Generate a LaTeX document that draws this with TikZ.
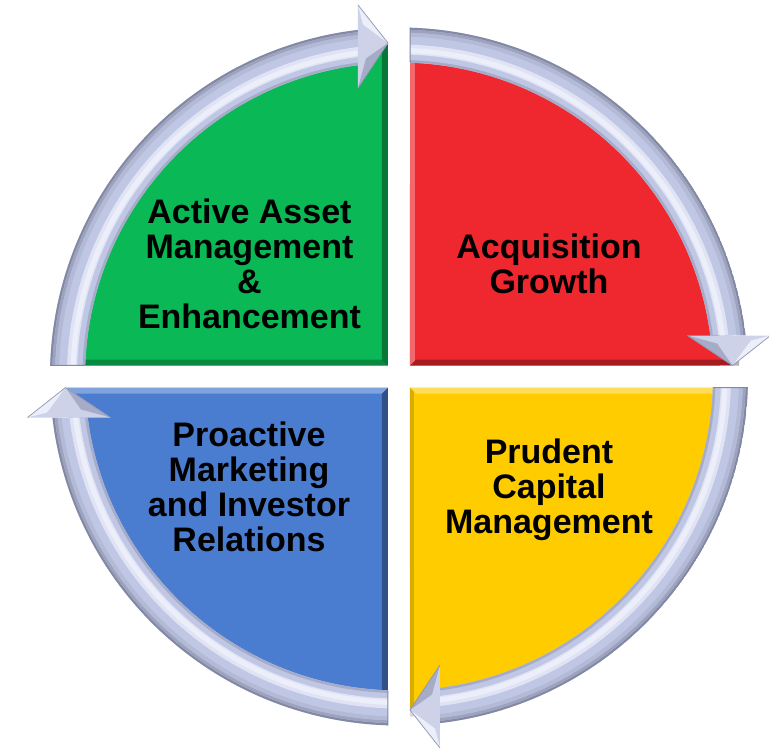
\documentclass[tikz,border=0pt]{standalone}
\usepackage{fontspec}
\setmainfont{Liberation Sans}
\definecolor{qgreen}{RGB}{10,184,86}
\definecolor{qred}{RGB}{238,40,46}
\definecolor{qyellow}{RGB}{255,204,0}
\definecolor{qblue}{RGB}{74,124,208}
\definecolor{bandbase}{RGB}{192,199,228}
\definecolor{bandlight}{RGB}{236,239,250}
\definecolor{banddark}{RGB}{105,110,135}
\newcommand{\quadshape}{(-11,11) -- (91.9:332) arc[start angle=91.9,end angle=178.1,radius=332] -- cycle}
\newcommand{\bandshape}{(178.19:349) arc[start angle=178.19,end angle=96.75,radius=349] -- (97.50:314) arc[start angle=97.50,end angle=177.99,radius=314] -- cycle}
\newcommand{\ringarrow}{%
  \begin{scope}
    \clip \bandshape;
    \fill[bandbase] (0,0) circle (360);
    \draw[banddark!70!bandbase, line width=2.5pt] (0,0) circle (348);
    \draw[banddark!40!bandbase, line width=3pt] (0,0) circle (345.3);
    \draw[banddark!15!bandbase, line width=4pt] (0,0) circle (342);
    \draw[bandlight!70!bandbase, line width=10pt] (0,0) circle (327);
    \draw[bandlight, line width=5pt] (0,0) circle (326);
    \draw[banddark!30!bandbase, line width=2.5pt] (0,0) circle (315.3);
  \end{scope}
  \draw[banddark!70!bandbase, line width=1pt] (177.99:314) -- (178.19:349);
  \fill[bandbase!80!white] (-41,371.5) -- (-11,333.5) -- (-41,288.5) -- cycle;
  \fill[banddark!30!bandbase] (-33,318) -- (-11,333.5) -- (-41,288.5) -- cycle;
  \fill[bandlight] (-41,371.5) -- (-11,333.5) -- (-36,352) -- cycle;
  \draw[banddark!55!bandbase, line width=0.7pt, line join=round] (-41,371.5) -- (-11,333.5) -- (-41,288.5);
}
\tikzset{lbl/.style={font=\fontsize{34}{35}\selectfont\bfseries, align=center, inner sep=0pt, text=black}}
\begin{document}
\begin{tikzpicture}[x=1pt,y=1pt]
  \useasboundingbox (-399,-371.5) rectangle (370,376.5);
  % quadrant fills
  \fill[qgreen] \quadshape;
  \begin{scope}[rotate=-90] \fill[qred] \quadshape; \end{scope}
  \begin{scope}[rotate=-180] \fill[qyellow] \quadshape; \end{scope}
  \begin{scope}[rotate=-270] \fill[qblue] \quadshape; \end{scope}
  % bevels
  \begin{scope}
    \clip \quadshape;
    \fill[black, opacity=0.35] (-11,11) -- (-11,340) -- (-17,340) -- (-17,17) -- cycle;
    \fill[black, opacity=0.25] (-11,11) -- (-340,11) -- (-340,17) -- (-17,17) -- cycle;
  \end{scope}
  \begin{scope}
    \begin{scope}[rotate=-90] \clip \quadshape; \end{scope}
    \fill[white, opacity=0.3] (11,11) -- (11,340) -- (16,340) -- (16,16) -- cycle;
    \fill[black, opacity=0.3] (11,11) -- (340,11) -- (340,17) -- (17,17) -- cycle;
  \end{scope}
  \begin{scope}
    \begin{scope}[rotate=-180] \clip \quadshape; \end{scope}
    \fill[white, opacity=0.35] (11,-11) -- (340,-11) -- (340,-17) -- (17,-17) -- cycle;
    \fill[black, opacity=0.15] (11,-11) -- (11,-340) -- (15,-340) -- (15,-15) -- cycle;
  \end{scope}
  \begin{scope}
    \begin{scope}[rotate=-270] \clip \quadshape; \end{scope}
    \fill[white, opacity=0.3] (-11,-11) -- (-340,-11) -- (-340,-17) -- (-17,-17) -- cycle;
    \fill[black, opacity=0.35] (-11,-11) -- (-11,-340) -- (-17,-340) -- (-17,-17) -- cycle;
  \end{scope}
  % ring arrows
  \ringarrow
  \begin{scope}[rotate=-90] \ringarrow \end{scope}
  \begin{scope}[rotate=-180] \ringarrow \end{scope}
  \begin{scope}[rotate=-270] \ringarrow \end{scope}
  % labels
  \node[lbl] (tgreen) at (-149.5,112.5) {Active Asset\\Management\\\&\\Enhancement};
  \node[lbl] (tred) at (150,113) {Acquisition\\Growth};
  \node[lbl] (tyellow) at (150,-113.5) {Prudent\\Capital\\Management};
  \node[lbl] (tblue) at (-150,-110.3) {Proactive\\Marketing\\and Investor\\Relations};
\end{tikzpicture}
\end{document}
